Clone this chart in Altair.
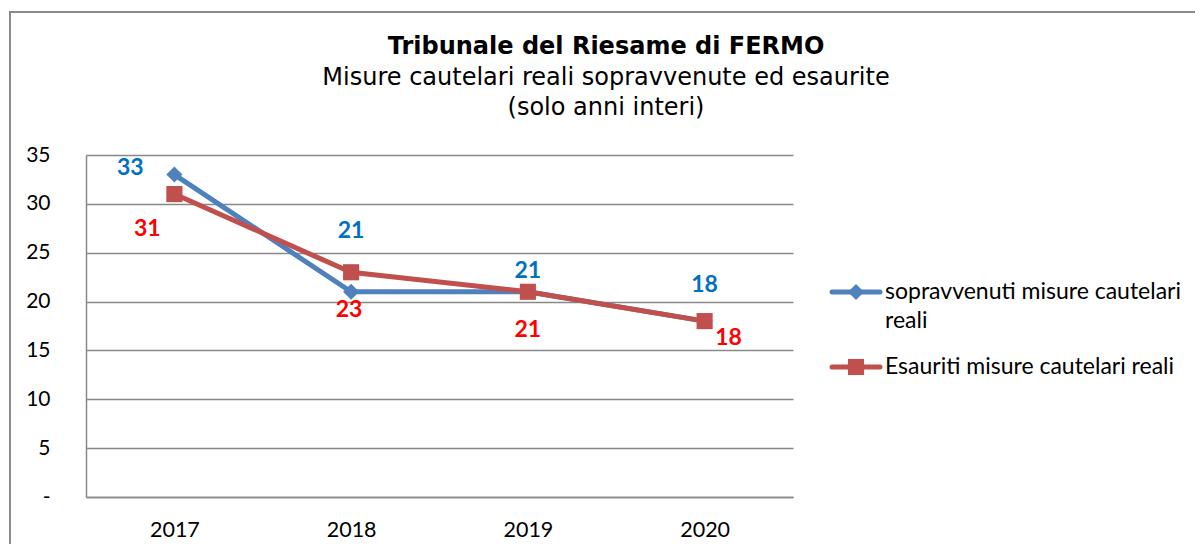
import altair as alt
import pandas as pd

years = ["2017", "2018", "2019", "2020"]
sopravvenuti = [33, 21, 21, 18]
esauriti = [31, 23, 21, 18]
series_names = ["sopravvenuti misure cautelari reali", "Esauriti misure cautelari reali"]
title_line = "Tribunale del Riesame di FERMO"
subtitle_lines = ["Misure cautelari reali sopravvenute ed esaurite", "(solo anni interi)"]
y_ticks = [0, 5, 10, 15, 20, 25, 30, 35]

line_colors = ["#4F81BD", "#C0504D"]
label_colors = ["#0070C0", "#FF0000"]
grid_color = "#888888"

rows = []
for i, y in enumerate(years):
    rows.append({"year": y, "series": series_names[0], "value": sopravvenuti[i]})
    rows.append({"year": y, "series": series_names[1], "value": esauriti[i]})
df = pd.DataFrame(rows)

W, H = 707, 342
one = pd.DataFrame({"k": [0]})

x_enc = alt.X("year:N", sort=years,
              scale=alt.Scale(type="point", padding=0.5),
              axis=alt.Axis(title=None, labelAngle=0, ticks=False, grid=False,
                            domainColor=grid_color, domainWidth=1.5,
                            labelFont="Lato", labelFontSize=21.5, labelColor="#000000",
                            labelPadding=22))
y_enc = alt.Y("value:Q", scale=alt.Scale(domain=[0, 35], nice=False),
              axis=alt.Axis(title=None, values=y_ticks, ticks=False,
                            grid=True, gridColor=grid_color, gridWidth=1.5,
                            domainColor=grid_color, domainWidth=1.5,
                            labelFont="Lato", labelFontSize=21, labelColor="#000000",
                            labelPadding=36,
                            labelExpr="datum.value == 0 ? '-' : datum.label"))

base = alt.Chart(df)

layers = []
shapes = ["diamond", "square"]
sizes = [260, 260]
for si, name in enumerate(series_names):
    b = base.transform_filter(alt.datum.series == name)
    layers.append(b.mark_line(color=line_colors[si], strokeWidth=5).encode(x=x_enc, y=y_enc))
    layers.append(b.mark_point(shape=shapes[si], filled=True, opacity=1,
                               color=line_colors[si], size=sizes[si]).encode(x=x_enc, y=y_enc))

# label offsets (pixels) for each series / year
offsets = {
    (0, "2017"): (-44, -7), (0, "2018"): (0, -61), (0, "2019"): (0, -21), (0, "2020"): (0, -36),
    (1, "2017"): (-27, 35), (1, "2018"): (-2, 38), (1, "2019"): (0, 38), (1, "2020"): (24, 17),
}
for (si, yr), (dx, dy) in offsets.items():
    layers.append(
        base.transform_filter((alt.datum.series == series_names[si]) & (alt.datum.year == yr))
        .mark_text(font="Lato", fontSize=23, fontWeight="bold", color=label_colors[si],
                   dx=dx, dy=dy, baseline="middle", align="center")
        .encode(x=x_enc, y=y_enc, text="value:Q")
    )

# title
layers.append(alt.Chart(one).mark_text(font="DejaVu Sans", fontSize=24, fontWeight="bold",
                                        color="#000000", align="center", baseline="middle")
              .encode(x=alt.value(520), y=alt.value(-108), text=alt.value(title_line)))
for li, t in enumerate(subtitle_lines):
    layers.append(alt.Chart(one).mark_text(font="DejaVu Sans", fontSize=24,
                                            color="#000000", align="center", baseline="middle")
                  .encode(x=alt.value(520), y=alt.value(-77 + 30 * li), text=alt.value(t)))

# legend
leg_y = [137, 212]
leg_text = [["sopravvenuti misure cautelari", "reali"], ["Esauriti misure cautelari reali"]]
for si in range(2):
    layers.append(alt.Chart(one).mark_rule(color=line_colors[si], strokeWidth=5, strokeCap="round")
                  .encode(x=alt.value(746), x2=alt.value(794), y=alt.value(leg_y[si])))
    layers.append(alt.Chart(one).mark_point(shape=shapes[si], filled=True, opacity=1,
                                            color=line_colors[si], size=sizes[si])
                  .encode(x=alt.value(770), y=alt.value(leg_y[si])))
    for li, t in enumerate(leg_text[si]):
        layers.append(alt.Chart(one).mark_text(font="Lato", fontSize=23, color="#000000",
                                                align="left", baseline="middle")
                      .encode(x=alt.value(799), y=alt.value(leg_y[si] + 29 * li), text=alt.value(t)))

# outer border
layers.append(alt.Chart(one).mark_rect(fill=None, fillOpacity=0, stroke="#8a8a8a", strokeWidth=2)
              .encode(x=alt.value(-76), x2=alt.value(1300), y=alt.value(-143), y2=alt.value(600)))

chart = alt.layer(*layers).properties(
    width=W, height=H,
    autosize=alt.AutoSizeParams(type="none"),
    padding={"left": 78, "top": 147, "right": 402, "bottom": 47},
).configure_view(stroke=None)

chart.save("out.html", embed_options={"renderer": "svg", "actions": False})
